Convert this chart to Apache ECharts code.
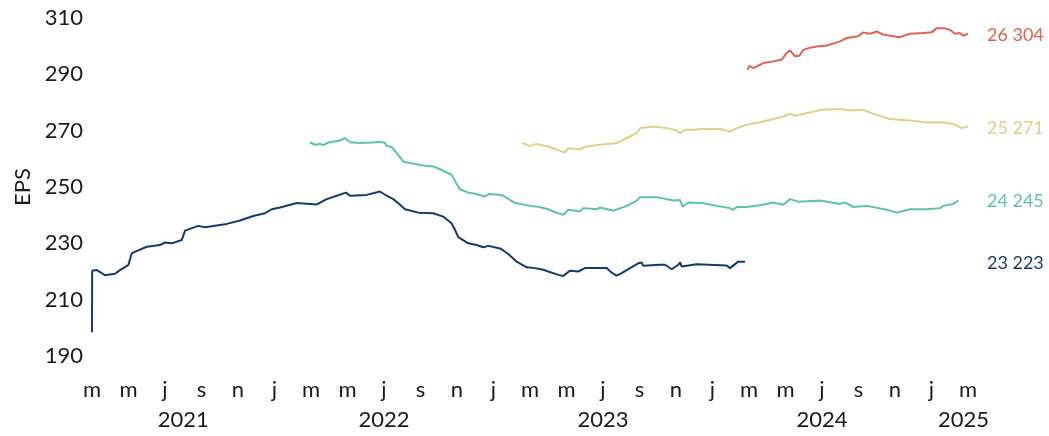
<!DOCTYPE html>
<html>
<head>
<meta charset="utf-8">
<script src="https://cdn.jsdelivr.net/npm/echarts@6/dist/echarts.min.js"></script>
<style>
html,body{margin:0;padding:0;background:#fff;}
#chart{width:1049px;height:436px;}
</style>
</head>
<body>
<div id="chart"></div>
<script>
// x = months since March 2021
const monthTickLabels = ['m','m','j','s','n','j','m','m','j','s','n','j','m','m','j','s','n','j','m','m','j','s','n','j','m'];
const yearLabels = ['2021','2022','2023','2024','2025'];
const yearPositions = [5, 16, 28, 40, 47.75];

const seriesNames = ['23','24','25','26'];
const seriesColors = ['#143a6e','#5cc2ae','#dfd18a','#e0624f'];
const endValues = [223, 245, 271, 304];

const eps23 = [[0,198.4],[0.01,220.3],[0.27,220.5],[0.71,218.7],[1.26,219.2],[1.53,220.5],[1.99,222.3],[2.18,226.5],[3.0,228.8],[3.73,229.4],[4.0,230.3],[4.37,230.0],[4.92,231.2],[5.10,234.5],[5.82,236.2],[6.19,235.7],[7.38,236.9],[8.11,238.1],[8.84,239.7],[9.48,240.7],[9.85,242.1],[10.30,242.7],[11.22,244.3],[12.32,243.8],[12.86,245.7],[13.41,246.9],[13.92,248.0],[14.14,246.9],[15.05,247.2],[15.78,248.4],[16.15,246.9],[16.51,245.7],[16.88,243.7],[17.15,242.1],[17.88,240.9],[18.70,240.7],[19.24,239.5],[19.70,237.1],[19.89,234.8],[20.07,232.2],[20.62,230.0],[21.08,229.4],[21.44,228.6],[21.72,229.1],[22.36,228.2],[22.81,226.2],[23.27,223.5],[23.82,221.5],[24.27,221.2],[24.73,220.6],[25.0,220.0],[25.55,218.8],[25.82,218.4],[26.19,220.3],[26.65,220.0],[27.01,221.2],[27.84,221.2],[28.20,221.2],[28.48,219.6],[28.75,218.5],[29.02,219.4],[29.48,221.2],[29.93,222.9],[30.12,223.2],[30.21,222.0],[31.12,222.4],[31.40,222.4],[31.76,220.8],[32.13,222.4],[32.22,223.3],[32.31,221.8],[33.13,222.6],[34.78,222.1],[34.96,221.2],[35.41,223.5],[35.78,223.5]];

const eps24 = [[11.95,265.8],[12.22,265.0],[12.49,265.3],[12.67,264.9],[12.95,265.8],[13.59,266.5],[13.86,267.4],[13.96,267.9],[14.14,265.9],[14.68,265.6],[15.41,265.8],[15.78,266.1],[16.05,265.6],[16.15,264.6],[16.42,264.2],[16.78,261.4],[17.06,259.0],[17.42,258.5],[18.15,257.6],[18.70,257.3],[19.07,256.3],[19.71,254.3],[19.95,251.4],[20.16,249.2],[20.62,248.0],[20.99,247.6],[21.53,246.6],[21.72,247.5],[22.45,247.2],[22.90,245.4],[23.18,244.3],[24.0,243.3],[24.45,243.0],[25.0,242.1],[25.27,241.3],[25.82,240.1],[26.10,241.9],[26.74,241.3],[26.92,242.5],[27.65,242.1],[27.84,242.7],[28.57,241.6],[29.30,243.3],[29.85,245.1],[30.03,246.4],[30.94,246.4],[31.85,245.2],[32.22,245.4],[32.36,243.0],[32.67,244.5],[33.50,244.2],[34.23,243.3],[34.96,242.5],[35.14,241.9],[35.33,242.9],[35.87,242.9],[36.60,243.5],[37.33,244.5],[37.88,243.7],[38.25,245.7],[38.70,244.8],[39.89,245.2],[40.99,244.0],[41.26,244.5],[41.72,242.9],[42.45,243.3],[43.55,241.9],[44.09,240.9],[44.82,242.1],[45.74,242.1],[46.47,242.5],[46.65,243.3],[47.19,244.0],[47.47,245.2]];

const eps25 = [[23.55,265.6],[24.0,264.6],[24.37,265.3],[25.0,264.4],[25.10,263.8],[25.92,262.2],[26.10,263.8],[26.74,263.4],[27.10,264.4],[27.84,265.0],[28.75,265.6],[29.30,267.4],[29.85,269.1],[30.03,270.9],[30.76,271.5],[31.49,270.9],[32.04,270.1],[32.22,269.1],[32.49,270.3],[32.95,270.3],[33.32,270.6],[34.41,270.6],[34.96,269.7],[35.33,270.9],[35.87,272.1],[36.60,273.0],[37.88,275.0],[38.25,276.0],[38.52,275.3],[39.16,276.2],[39.98,277.4],[40.99,277.7],[41.53,277.2],[42.26,277.4],[43.0,275.6],[43.73,274.1],[44.82,273.6],[45.74,272.9],[46.65,272.9],[47.19,272.4],[47.65,270.9],[48.0,271.5]];

const eps26 = [[35.91,291.6],[36.02,293.0],[36.24,292.2],[36.79,294.0],[37.33,294.6],[37.79,295.2],[38.07,297.6],[38.25,298.5],[38.52,296.4],[38.76,296.6],[38.98,298.7],[39.25,299.3],[39.71,299.9],[40.26,300.2],[40.99,301.7],[41.35,302.9],[41.99,303.5],[42.26,304.9],[42.63,304.4],[43.0,305.2],[43.36,304.1],[43.91,303.5],[44.27,303.2],[44.82,304.4],[45.55,304.7],[46.01,304.9],[46.29,306.4],[46.65,306.4],[47.01,305.8],[47.29,304.4],[47.56,304.7],[47.74,303.7],[48.0,304.4]];

const allData = [eps23, eps24, eps25, eps26];
const FONT = 'Lato';
const TXT = '#1a1a1a';

const lineSeries = allData.map((d, i) => ({
  name: seriesNames[i],
  type: 'line',
  data: d,
  showSymbol: false,
  symbol: 'none',
  lineStyle: { width: 2, color: seriesColors[i] },
  itemStyle: { color: seriesColors[i] },
  animation: false,
  z: 2 + i
}));

const labelSeries = {
  type: 'scatter',
  symbolSize: 0,
  animation: false,
  itemStyle: { opacity: 1 },
  data: endValues.map((v, i) => ({
    value: [48, v],
    itemStyle: { color: seriesColors[i], opacity: 1 },
    label: {
      show: true,
      position: 'right',
      distance: 19,
      formatter: seriesNames[i] + ' ' + v,
      color: seriesColors[i],
      opacity: 1,
      fontFamily: FONT,
      fontSize: 18
    }
  }))
};

const chart = echarts.init(document.getElementById('chart'), null, { renderer: 'canvas' });
chart.setOption({
  backgroundColor: '#fff',
  animation: false,
  grid: { left: 92, right: 81, top: 18, bottom: 80, containLabel: false },
  xAxis: [
    {
      type: 'value', min: 0, max: 48, interval: 2,
      axisLine: { show: false }, axisTick: { show: false }, splitLine: { show: false },
      axisLabel: {
        margin: 23, color: TXT, fontFamily: FONT, fontSize: 22,
        formatter: v => monthTickLabels[Math.round(v / 2)] || ''
      }
    },
    {
      type: 'value', min: 0, max: 48, interval: 0.25, position: 'bottom',
      axisLine: { show: false }, axisTick: { show: false }, splitLine: { show: false },
      axisLabel: {
        margin: 53, color: TXT, fontFamily: FONT, fontSize: 22,
        showMinLabel: true, showMaxLabel: true,
        formatter: v => {
          const k = yearPositions.findIndex(p => Math.abs(p - v) < 1e-6);
          return k >= 0 ? yearLabels[k] : '';
        }
      }
    }
  ],
  yAxis: {
    type: 'value', min: 190, max: 310, interval: 20,
    name: 'EPS', nameLocation: 'middle', nameGap: 58, nameRotate: 90,
    nameTextStyle: { color: TXT, fontFamily: FONT, fontSize: 22 },
    axisLine: { show: false }, axisTick: { show: false }, splitLine: { show: false },
    axisLabel: { margin: 9, color: TXT, fontFamily: FONT, fontSize: 22 }
  },
  series: lineSeries.concat([labelSeries])
});
</script>
</body>
</html>
